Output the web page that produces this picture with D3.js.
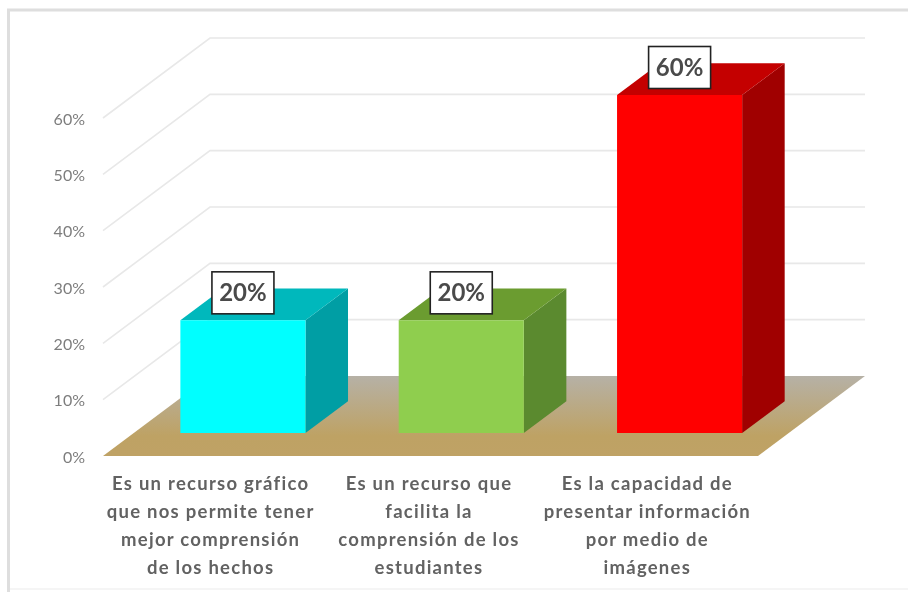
<!DOCTYPE html>
<html><head><meta charset="utf-8">
<script src="https://cdn.jsdelivr.net/npm/d3@7/dist/d3.min.js"></script>
<style>html,body{margin:0;padding:0;background:#fff}svg{display:block;filter:blur(0.7px)}</style>
</head><body><svg id="c" width="908" height="595"></svg>
<script>
const categories = [
  ["Es un recurso gráfico","que nos permite tener","mejor comprensión","de los hechos"],
  ["Es un recurso que","facilita la","comprensión de los","estudiantes"],
  ["Es la capacidad de","presentar información","por medio de","imágenes"]
];
const values = [0.2, 0.2, 0.6];
const frontColors = ["#00ffff", "#8fce4e", "#ff0000"];
const topColors = ["#00b8bc", "#6b9c30", "#c40000"];
const sideColors = ["#009ea4", "#5b8a2f", "#a00000"];
const ticks = [0, 0.1, 0.2, 0.3, 0.4, 0.5, 0.6];

const svg = d3.select("#c");
const y = d3.scaleLinear().domain([0, 0.6]).range([456, 118]);
const x = d3.scaleBand().domain(d3.range(categories.length)).range([103, 758]).paddingInner(0.427).paddingOuter(0.2135);
const dx = d3.scaleLinear().domain([0, 1]).range([0, 107]);
const dy = d3.scaleLinear().domain([0, 1]).range([0, -80]);
const pt = (px, v, d) => [px + dx(d), y(v) + dy(d)];
const line = d3.line();
const poly = pts => line(pts) + "Z";

// chart frame
svg.append("rect").attr("x", 0).attr("y", 0).attr("width", 908).attr("height", 595).attr("fill", "#fff");
svg.append("path").attr("d", "M8.5,592V10H908").attr("fill", "none").attr("stroke", "#dedede").attr("stroke-width", 3);
svg.append("path").attr("d", "M10,589H908").attr("fill", "none").attr("stroke", "#f2f2f2").attr("stroke-width", 1.5);

// gridlines
const [xa, xb] = x.range();
svg.append("g").selectAll("path").data(ticks.slice(1)).join("path")
  .attr("d", t => line([pt(xa, t, 0), pt(xa, t, 1), pt(xb, t, 1)]))
  .attr("fill", "none").attr("stroke", "#e8e8e8").attr("stroke-width", 1.6);

// floor
const defs = svg.append("defs");
const g = defs.append("linearGradient").attr("id", "floor").attr("x1", 0).attr("x2", 0).attr("y1", 0).attr("y2", 1);
g.append("stop").attr("offset", 0).attr("stop-color", "#b6b1a6");
g.append("stop").attr("offset", 0.75).attr("stop-color", "#bea264");
g.append("stop").attr("offset", 1).attr("stop-color", "#bfa265");
svg.append("path").attr("d", poly([pt(xa, 0, 0), pt(xb, 0, 0), pt(xb, 0, 1), pt(xa, 0, 1)])).attr("fill", "url(#floor)");

// bars
const d0 = 0.2875, d1 = 0.685;
const bars = svg.append("g").selectAll("g").data(values).join("g");
bars.append("path").attr("fill", (v, i) => sideColors[i])
  .attr("d", (v, i) => { const r = x(i) + x.bandwidth(); return poly([pt(r, 0, d0), pt(r, v, d0), pt(r, v, d1), pt(r, 0, d1)]); });
bars.append("path").attr("fill", (v, i) => topColors[i])
  .attr("d", (v, i) => { const l = x(i), r = l + x.bandwidth(); return poly([pt(l, v, d0), pt(r, v, d0), pt(r, v, d1), pt(l, v, d1)]); });
bars.append("path").attr("fill", (v, i) => frontColors[i])
  .attr("d", (v, i) => { const l = x(i), r = l + x.bandwidth(); return poly([pt(l, 0, d0), pt(r, 0, d0), pt(r, v, d0), pt(l, v, d0)]); });

// data labels
const lab = svg.append("g").selectAll("g").data(values).join("g")
  .attr("transform", (v, i) => {
    const p = pt(x(i) + x.bandwidth() / 2, v, d0);
    return `translate(${p[0]},${p[1] - 27.5})`;
  });
lab.append("rect").attr("x", -31).attr("y", -21).attr("width", 62).attr("height", 42)
  .attr("fill", "#fff").attr("stroke", "#222").attr("stroke-width", 1.6);
lab.append("text").attr("text-anchor", "middle").attr("dy", "0.35em")
  .attr("font-family", "Lato").attr("font-weight", 700).attr("font-size", 24).attr("fill", "#4a4a4a")
  .text(v => d3.format(".0%")(v));

// y axis
const axis = svg.append("g").attr("transform", "translate(85,1)")
  .call(d3.axisLeft(y).tickValues(ticks).tickFormat(d3.format(".0%")).tickSize(0).tickPadding(0));
axis.select(".domain").remove();
axis.selectAll("text").attr("font-family", "Lato").attr("font-size", 16).attr("fill", "#7d7d7d");

// category labels
const cat = svg.append("g").selectAll("text").data(categories).join("text")
  .attr("text-anchor", "middle").attr("font-family", "Lato").attr("font-weight", 700)
  .attr("font-size", 18.5).attr("fill", "#626262").attr("letter-spacing", 1.25);
cat.each(function (lines, i) {
  d3.select(this).selectAll("tspan").data(lines).join("tspan")
    .attr("x", x(i) + x.bandwidth() / 2 - 1.5)
    .attr("y", (l, j) => 490 + j * 28)
    .text(l => l);
});
</script></body></html>
